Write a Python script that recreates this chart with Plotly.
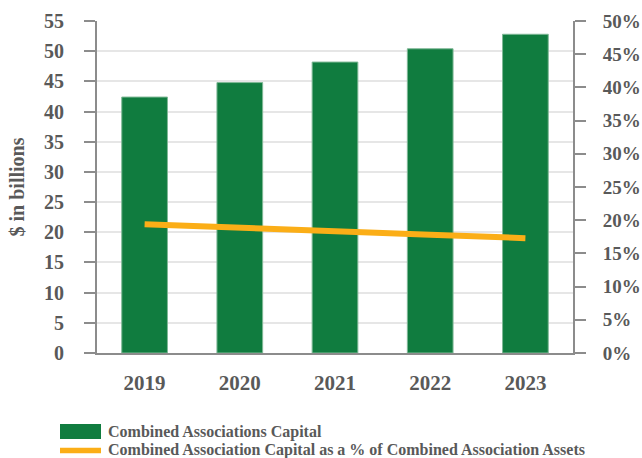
import plotly.graph_objects as go

years = ['2019', '2020', '2021', '2022', '2023']
capital = [42.4, 44.8, 48.2, 50.4, 52.8]          # $ in billions
capital_pct = [0.194, 0.188, 0.183, 0.178, 0.173]  # capital as % of assets

GREEN = '#107c3f'
ORANGE = '#fbae17'
GRAY = '#595959'
AXIS = '#8c8c8c'
FONT = 'Liberation Serif'

fig = go.Figure()

fig.add_trace(go.Bar(
    x=years, y=capital,
    name='Combined Associations Capital',
    marker=dict(color=GREEN, line=dict(color='#7fb896', width=1)),
    width=0.48,
    showlegend=False,
))

fig.add_trace(go.Scatter(
    x=years, y=capital_pct,
    name='Combined Association Capital as a % of Combined Association Assets',
    mode='lines',
    line=dict(color=ORANGE, width=6),
    yaxis='y2',
    showlegend=False,
))

tick_font = dict(family=FONT, size=20, color=GRAY, weight='bold')

fig.update_layout(
    width=642, height=458,
    margin=dict(l=97, r=69, t=21, b=105, autoexpand=False),
    plot_bgcolor='white', paper_bgcolor='white',
    font=dict(family=FONT, color=GRAY),
    xaxis=dict(
        automargin=False,
        showline=True, linecolor=AXIS, linewidth=2,
        showgrid=False, ticks='',
        tickfont=dict(family=FONT, size=21, color=GRAY, weight='bold'),
        ticklabelstandoff=10,
    ),
    yaxis=dict(
        automargin=False,
        range=[0, 55], dtick=5,
        showline=True, linecolor=AXIS, linewidth=2,
        ticks='outside', ticklen=11, tickwidth=2, tickcolor=AXIS,
        showgrid=True, gridcolor='#e6e6e6', gridwidth=2,
        zeroline=False,
        tickfont=tick_font,
        ticklabelstandoff=16,
        title=dict(text='$ in billions',
                   font=dict(family=FONT, size=20, color=GRAY, weight='bold'),
                   standoff=14),
    ),
    yaxis2=dict(
        automargin=False,
        range=[0, 0.5], dtick=0.05, tickformat='.0%',
        overlaying='y', side='right',
        showline=True, linecolor=AXIS, linewidth=2,
        ticks='outside', ticklen=11, tickwidth=2, tickcolor=AXIS,
        showgrid=False, zeroline=False,
        tickfont=dict(family=FONT, size=19, color=GRAY, weight='bold'),
        ticklabelstandoff=13,
    ),
)

# custom legend below the chart, placed in pixel terms of the plot area
def px_x(p):
    return (p - 97) / 476

def px_y(p):
    return (353 - p) / 332

fig.add_shape(type='rect', xref='paper', yref='paper',
              x0=px_x(60), x1=px_x(101), y0=px_y(439), y1=px_y(424),
              fillcolor=GREEN, line=dict(width=0))
fig.add_shape(type='line', xref='paper', yref='paper',
              x0=px_x(60), x1=px_x(101), y0=px_y(450.5), y1=px_y(450.5),
              line=dict(color=ORANGE, width=5.5))
fig.add_annotation(xref='paper', yref='paper', x=px_x(106), y=px_y(432),
                   xanchor='left', yanchor='middle', showarrow=False,
                   text='Combined Associations Capital',
                   font=dict(family=FONT, size=16, color=GRAY, weight='bold'))
fig.add_annotation(xref='paper', yref='paper', x=px_x(106), y=px_y(450),
                   xanchor='left', yanchor='middle', showarrow=False,
                   text='Combined Association Capital as a % of Combined Association Assets',
                   font=dict(family=FONT, size=16, color=GRAY, weight='bold'))

# drop the default page margin so the figure sits at the window's corner
fig.write_html('out.html', config={'displayModeBar': False},
               post_script="document.body.style.margin='0';")
